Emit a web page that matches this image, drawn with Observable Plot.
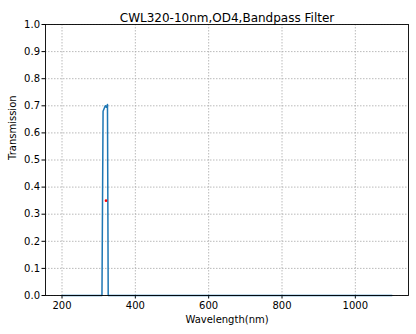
<!DOCTYPE html>
<html>
<head>
<meta charset="utf-8">
<script src="https://cdn.jsdelivr.net/npm/d3@7"></script>
<script src="https://cdn.jsdelivr.net/npm/@observablehq/plot@0.6"></script>
<style>
  html, body { margin: 0; padding: 0; background: #fff; }
  #chart svg { display: block; }
</style>
</head>
<body>
<div id="chart"></div>
<script>
const titleText = "CWL320-10nm,OD4,Bandpass Filter";
const xLabel = "Wavelength(nm)";
const yLabel = "Transmission";

const wavelengths = [200, 250, 300, 305, 309, 312, 315, 318, 321, 324, 326, 330, 340, 400, 600, 800, 1000, 1100];
const transmission = [0, 0, 0, 0, 0, 0.68, 0.69, 0.70, 0.695, 0.705, 0, 0, 0, 0, 0, 0, 0, 0];

const markerX = [320];
const markerY = [0.35];

const xTicks = [200, 400, 600, 800, 1000];
const yTicks = [0, 0.1, 0.2, 0.3, 0.4, 0.5, 0.6, 0.7, 0.8, 0.9, 1.0];

const curve = wavelengths.map((w, i) => ({w, t: transmission[i]}));
const marks = markerX.map((w, i) => ({w, t: markerY[i]}));

const font = "DejaVu Sans, sans-serif";

const chart = Plot.plot({
  width: 416,
  height: 334,
  marginLeft: 45,
  marginRight: 8,
  marginTop: 24,
  marginBottom: 39,
  style: {fontFamily: font, fontSize: "10px", color: "#000", background: "#fff"},
  x: {domain: [155, 1145]},
  y: {domain: [0, 1]},
  marks: [
    Plot.gridX(xTicks, {stroke: "#a8a8a8", strokeOpacity: 1, strokeDasharray: "1.5,1.5", strokeWidth: 0.8}),
    Plot.gridY(yTicks, {stroke: "#a8a8a8", strokeOpacity: 1, strokeDasharray: "1.5,1.5", strokeWidth: 0.8}),
    Plot.axisX(xTicks, {tickSize: 3.5, tickPadding: 3, label: null, fontSize: 10, tickFormat: d => String(d)}),
    Plot.axisY(yTicks, {tickSize: 3.5, tickPadding: 2, label: null, fontSize: 10, tickFormat: d => d.toFixed(1)}),
    Plot.line(curve, {x: "w", y: "t", stroke: "#1f77b4", strokeWidth: 1.5}),
    Plot.dot(marks, {x: "w", y: "t", r: 1.3, fill: "red", stroke: "none"}),
    Plot.frame({stroke: "#000", strokeWidth: 0.9}),
    Plot.text([titleText], {frameAnchor: "top", dy: -11, fontSize: 12, fill: "#000"}),
    Plot.text([xLabel], {frameAnchor: "bottom", dy: 27, fontSize: 10, fill: "#000"}),
    Plot.text([yLabel], {frameAnchor: "left", dx: -33, rotate: -90, fontSize: 10, fill: "#000"})
  ]
});
document.getElementById("chart").appendChild(chart);
</script>
</body>
</html>
